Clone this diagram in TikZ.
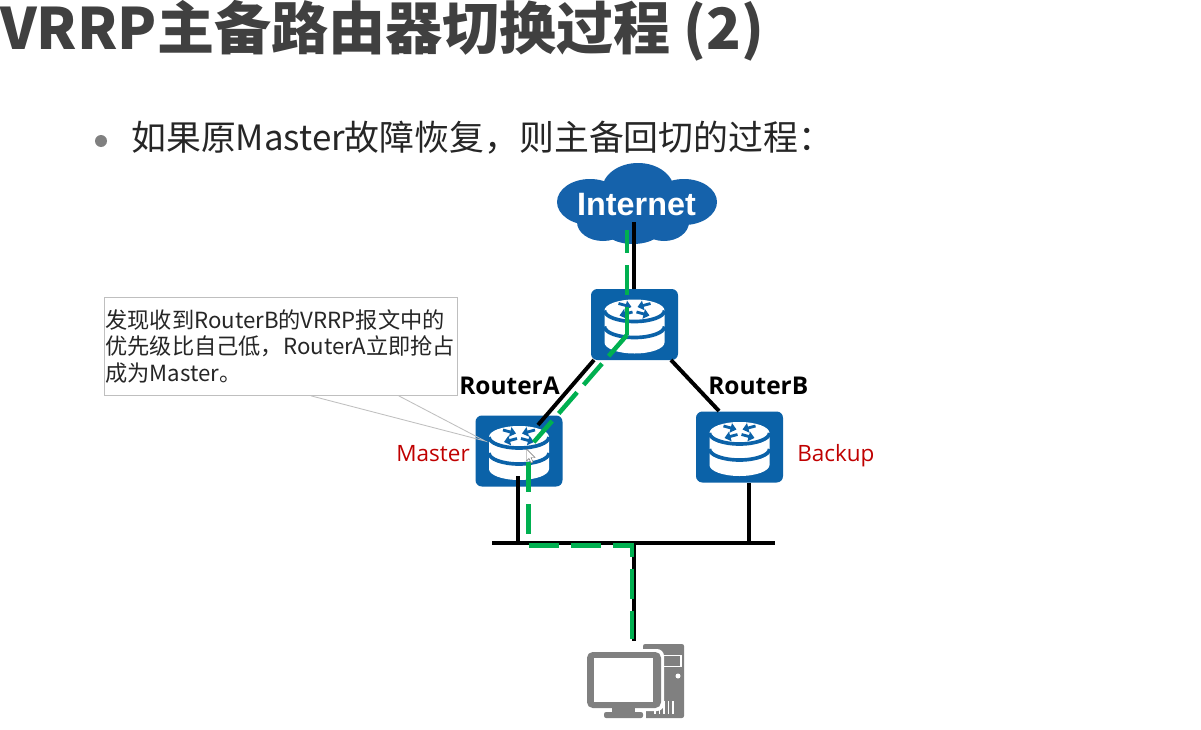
\documentclass[tikz,border=0pt]{standalone}
\usepackage{fontspec}
\setmainfont{Noto Sans CJK SC}
\newfontfamily\labelfont{Open Sans}
\newfontfamily\cloudfont{Liberation Sans}
\usetikzlibrary{positioning, arrows.meta, calc}
\definecolor{cRouter}{HTML}{0B62A8}
\definecolor{cCloud}{HTML}{1562AB}
\definecolor{cPath}{HTML}{00B050}
\definecolor{cRole}{HTML}{C00000}
\definecolor{cHost}{HTML}{808080}
\definecolor{cTitle}{HTML}{404040}

\begin{document}
\begin{tikzpicture}[
  x=0.025cm, y=-0.025cm,
  router/.style={rounded corners=4.5pt, fill=cRouter, minimum width=87*0.025cm,
                 minimum height=71*0.025cm, inner sep=0pt},
  link/.style={draw=black, line width=2.8pt},
  vrrplink/.style={draw=cPath, line width=3.2pt, dash pattern=on 0.75cm off 0.3cm},
  role/.style={font=\labelfont\fontsize{16}{18}\selectfont, text=cRole, inner sep=0pt},
  rname/.style={font=\labelfont\bfseries\fontsize{17.4}{19}\selectfont, inner sep=0pt},
  pics/routericon/.style={code={
    \fill[white] (-30,-14) -- (-30,18) arc (180:0:30 and 11) -- (30,-14)
      arc (0:-180:30 and 11) -- cycle;
    \draw[cRouter, line width=2.6pt] (-30,2) arc (180:0:30 and 11);
    \draw[cRouter, line width=2.6pt] (-30,-14) arc (180:0:30 and 11);
    \foreach \sx/\sy/\ex/\ey in {-16/-21/-3/-17.5, 16/-21/3/-17.5, -2/-12.5/-15/-9, 2/-12.5/15/-9} {
      \draw[cRouter, line width=2pt, -{Triangle[length=1.5mm, width=2.4mm]}]
        (\sx,\sy) -- (\ex,\ey);
    }
  }},
]
\useasboundingbox (0,0) rectangle (1201,729);
\fill[white] (0,0) rectangle (1201,729);

% ---- Heading and bullet ------------------------------------------------
\node[anchor=west, inner sep=0pt, text=cTitle,
      font=\bfseries\fontsize{40.6}{44}\selectfont] (title) at (0,31)
  {VRRP主备路由器切换过程 (2)};
\fill[cHost] (101,141) circle (6);
\node[anchor=west, inner sep=0pt, text=black!85,
      font=\fontsize{24.8}{28}\selectfont] (lead) at (131,138)
  {如果原Master故障恢复，则主备回切的过程：};

% ---- Internet cloud ----------------------------------------------------
\foreach \cx/\cy/\rx/\ry in {638/190/36/27, 590/202/33/23, 684/202/33/23,
                             603/222/26/19, 633/225/32/19, 664/222/25/19} {
  \fill[cCloud] (\cx,\cy) ellipse (\rx*1 and \ry*1);
}
\node[font=\cloudfont\bfseries\fontsize{23}{26}\selectfont, text=white,
      inner sep=0pt] (internet) at (636.5,205) {Internet};

% ---- Routers -----------------------------------------------------------
\node[router] (hub) at (634.5,324.5) {};
\node[router] (routerA) at (519,451) {};
\node[router] (routerB) at (739.5,447) {};
\pic at (hub) {routericon};
\pic at (routerA) {routericon};
\pic at (routerB) {routericon};

\node[rname, anchor=west] (nameA) at (459,386) {RouterA};
\node[rname, anchor=west] (nameB) at (708,386) {RouterB};
\node[role, anchor=east] (roleA) at (470,454) {Master};
\node[role, anchor=west] (roleB) at (797,455.5) {Backup};

% ---- Host --------------------------------------------------------------
\node[minimum width=97*0.025cm, minimum height=74*0.025cm, inner sep=0pt] (pc) at (635.5,681) {};
\fill[cHost, rounded corners=1.5pt] (643,644) rectangle (684,718);
\draw[white, line width=0.8pt] (661,655.5) rectangle (681,666.5);
\fill[white] (678,676) circle (2.5);
\foreach \vx in {655,659.5,664,668.5,673} {
  \draw[white, line width=1pt] (\vx,701) -- (\vx,714);
}
\fill[white, rounded corners=5pt] (584,649) rectangle (664,711);
\fill[white] (600,708) rectangle (646,719);
\fill[cHost, rounded corners=4pt] (587,652) rectangle (661,708);
\fill[white] (594,658) rectangle (653,702);
\fill[cHost] (612,708) rectangle (635,712);
\fill[cHost, rounded corners=1.5pt] (604,712) rectangle (643,718);

% ---- Links -------------------------------------------------------------
\coordinate (inetdrop) at (634,222);
\coordinate (hubL) at (594,360);
\coordinate (hubR) at (671,360);
\coordinate (portA) at (538,425);
\coordinate (portB) at (719,411);
\coordinate (stemA) at (518,476);
\coordinate (stemB) at (749,483);
\coordinate (busL) at (492,543);
\coordinate (busR) at (775,543);
\coordinate (tapA) at (518,543);
\coordinate (tapB) at (749,543);
\coordinate (tapPc) at (634,543);
\coordinate (pcdrop) at (634,641);

\draw[link] (inetdrop) -- (hub.north -| inetdrop);
\draw[link] (hubL) -- (portA);
\draw[link] (hubR) -- (portB);
\draw[link] (stemA) -- (tapA);
\draw[link] (stemB) -- (tapB);
\draw[link] (busL) -- (busR);
\draw[link] (tapPc) -- (pcdrop);

% ---- Traffic path ------------------------------------------------------
\coordinate (gIn) at (627,230);
\coordinate (gHub) at (627,335);
\coordinate (gA) at (533,443);
\coordinate (gOut) at (528.5,462);
\coordinate (gBus) at (528.5,545.5);
\coordinate (gTap) at (632,545.5);
\coordinate (gPc) at (632,639);
\draw[vrrplink, dash phase=0.175cm] (gIn) -- (gHub);
\draw[vrrplink, dash pattern=on 0.7cm off 0.25cm] (gHub) -- (gA);
\draw[vrrplink, line join=miter] (gOut) -- (gBus) -- (gTap) -- (gPc);

% ---- Pointer ----------------------------------------------------------
\filldraw[fill=white, draw=black!60, line width=0.3pt]
  (526.5,449) -- (526.5,461) -- (529,458.5) -- (531,463) -- (533,462)
  -- (531,457.5) -- (535,457.5) -- cycle;

% ---- Callout -----------------------------------------------------------
\node[draw=black!25, fill=white, line width=0.6pt, anchor=north west, align=left,
      inner sep=0pt, text=black!85, minimum width=353*0.025cm, minimum height=98*0.025cm,
      text width=351*0.025cm, font=\fontsize{15.8}{19}\selectfont] (note) at (104,297)
  {发现收到RouterB的VRRP报文中的\\
   优先级比自己低，RouterA立即抢占\\
   成为Master。};
\coordinate (noteTip) at (485,441);
\draw[draw=black!25, line width=0.6pt]
  ($(note.south west)!0.585!(note.south east)$) -- (noteTip)
  -- ($(note.south west)!0.833!(note.south east)$);

\end{tikzpicture}
\end{document}
